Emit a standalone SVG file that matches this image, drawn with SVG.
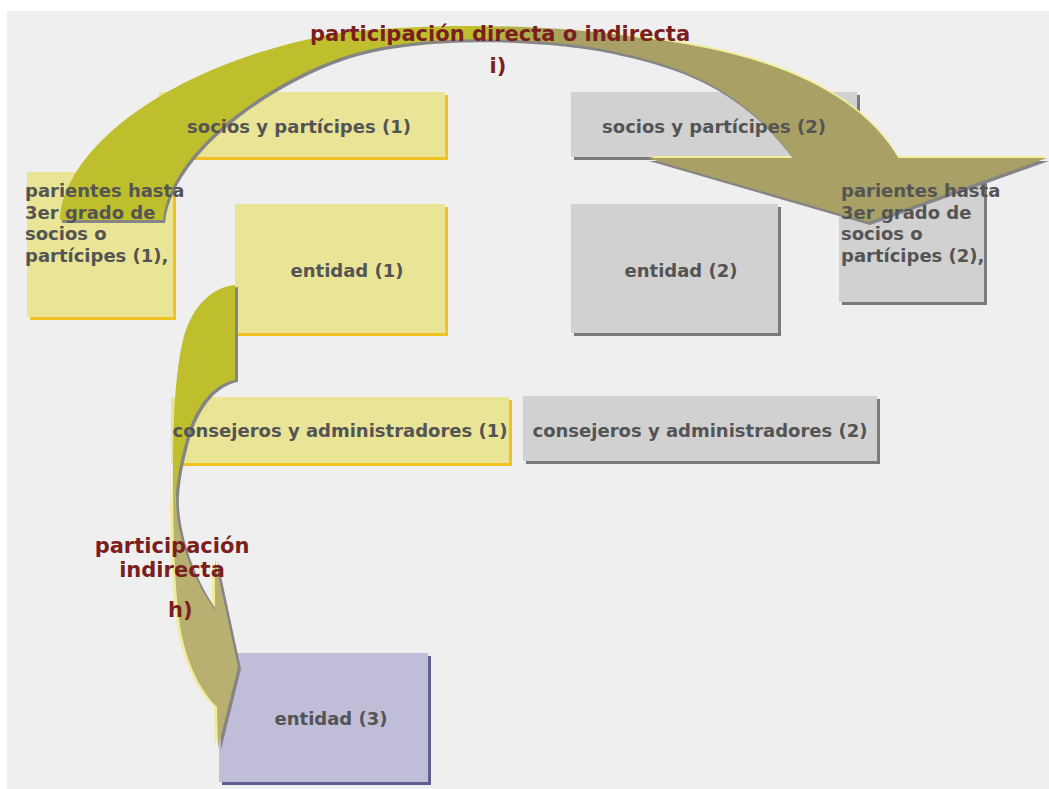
<svg xmlns="http://www.w3.org/2000/svg" width="1049" height="789" viewBox="0 0 1049 789">
<style>
.ny{fill:#e9e496}.sy{fill:#efc222}
.ng{fill:#d1d1d1}.sg{fill:#7a7a7a}
.np{fill:#c0bdd8}.sp{fill:#5e5e90}
.t{font-family:"DejaVu Sans","Verdana",sans-serif;font-weight:bold;font-size:18px;fill:#545454}
.c{text-anchor:middle}
.lbl{font-family:"DejaVu Sans","Verdana",sans-serif;font-weight:bold;font-size:21px;fill:#7b1e1e}
.shadow{fill:#858585}
</style>
<defs>
<linearGradient id="gI" gradientUnits="userSpaceOnUse" x1="470" y1="0" x2="570" y2="0">
<stop offset="0" stop-color="#bfbf2d"/><stop offset="1" stop-color="#a8a064"/>
</linearGradient>
<linearGradient id="hlI" gradientUnits="userSpaceOnUse" x1="560" y1="0" x2="640" y2="0">
<stop offset="0" stop-color="#f3ee9c" stop-opacity="0"/><stop offset="1" stop-color="#f3ee9c" stop-opacity="1"/>
</linearGradient>
<linearGradient id="gH" gradientUnits="userSpaceOnUse" x1="0" y1="470" x2="0" y2="520">
<stop offset="0" stop-color="#bfbf2d"/><stop offset="1" stop-color="#b7b071"/>
</linearGradient>
<linearGradient id="hlH" gradientUnits="userSpaceOnUse" x1="0" y1="470" x2="0" y2="510">
<stop offset="0" stop-color="#f1ec98" stop-opacity="0"/><stop offset="1" stop-color="#f1ec98" stop-opacity="1"/>
</linearGradient>
<path id="arrowI" d="M60,220 C62,150 170,62 340,33 C430,22 560,24 640,38 C760,50 860,90 898,158 L1047,158 L868,222 L647,158 L793,158 C750,100 700,70 620,53 C560,38 420,30 340,58 C270,82 170,150 163,220 Z"/>
<path id="arrowH" d="M235,285 L235,380 C215,383 195,405 186,440 C179,465 175,490 176,505 C178,535 190,575 215,610 L215,560 L238,667 L218,748 L217,707 C195,685 182,650 178,610 C174,570 173,520 173,480 C173,420 175,370 184,336 C193,305 213,287 235,285 Z"/>
</defs>
<rect x="0" y="0" width="1049" height="789" fill="#ffffff"/>
<rect x="7" y="11" width="1042" height="778" fill="#efefef"/>

<g id="node-socios1"><rect class="sy" x="162" y="95" width="286" height="65"/><rect class="ny" x="159" y="92" width="286" height="65"/></g>
<g id="node-socios2"><rect class="sg" x="574" y="95" width="286" height="65"/><rect class="ng" x="571" y="92" width="286" height="65"/></g>
<g id="node-parientes1"><rect class="sy" x="30" y="175" width="146" height="145"/><rect class="ny" x="27" y="172" width="146" height="145"/></g>
<g id="node-parientes2"><rect class="sg" x="842" y="175" width="145" height="130"/><rect class="ng" x="839" y="172" width="145" height="130"/></g>
<g id="node-entidad1"><rect class="sy" x="238" y="207" width="210" height="129"/><rect class="ny" x="235" y="204" width="210" height="129"/></g>
<g id="node-entidad2"><rect class="sg" x="574" y="207" width="207" height="129"/><rect class="ng" x="571" y="204" width="207" height="129"/></g>
<g id="node-consejeros1"><rect class="sy" x="174" y="400" width="338" height="66"/><rect class="ny" x="171" y="397" width="338" height="66"/></g>
<g id="node-consejeros2"><rect class="sg" x="526" y="399" width="354" height="65"/><rect class="ng" x="523" y="396" width="354" height="65"/></g>
<g id="node-entidad3"><rect class="sp" x="222" y="656" width="209" height="129"/><rect class="np" x="219" y="653" width="209" height="129"/></g>

<g id="connectors">
<g id="arrow-i">
<use href="#arrowI" transform="translate(0,-2)" fill="url(#hlI)"/>
<use href="#arrowI" class="shadow" transform="translate(2,3)"/>
<use href="#arrowI" fill="url(#gI)"/>
</g>
<g id="arrow-h">
<use href="#arrowH" transform="translate(-3,0)" fill="url(#hlH)"/>
<use href="#arrowH" class="shadow" transform="translate(3,2)"/>
<use href="#arrowH" fill="url(#gH)"/>
</g>
</g>

<g id="labels-nodes">
<text class="t c" x="299" y="133">socios y partícipes (1)</text>
<text class="t c" x="714" y="133">socios y partícipes (2)</text>
<text class="t" x="25"><tspan x="25" y="197">parientes hasta</tspan><tspan x="25" y="219">3er grado de</tspan><tspan x="25" y="240">socios o</tspan><tspan x="25" y="262">partícipes (1),</tspan></text>
<text class="t" x="841"><tspan x="841" y="197">parientes hasta</tspan><tspan x="841" y="219">3er grado de</tspan><tspan x="841" y="240">socios o</tspan><tspan x="841" y="262">partícipes (2),</tspan></text>
<text class="t c" x="347" y="277">entidad (1)</text>
<text class="t c" x="681" y="277">entidad (2)</text>
<text class="t c" x="340" y="437">consejeros y administradores (1)</text>
<text class="t c" x="700" y="437">consejeros y administradores (2)</text>
<text class="t c" x="331" y="725">entidad (3)</text>
</g>

<g id="labels-connectors">
<text class="lbl c" x="500" y="41">participación directa o indirecta</text>
<text class="lbl c" x="498" y="73">i)</text>
<text class="lbl c" x="172" y="553">participación</text>
<text class="lbl c" x="172" y="577">indirecta</text>
<text class="lbl" x="168" y="617">h)</text>
</g>
</svg>
